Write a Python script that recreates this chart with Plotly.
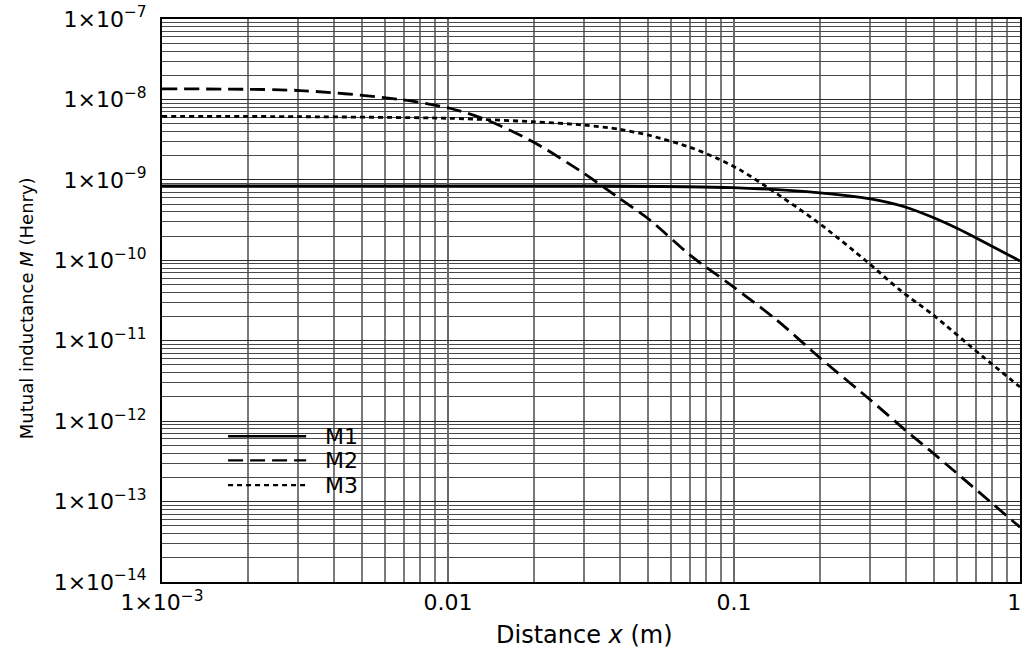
import plotly.graph_objects as go

# ---- data (x in m, M in Henry) ----
m1_x = [0.001, 0.003, 0.01, 0.034, 0.099, 0.2, 0.3, 0.397, 0.497, 0.602, 0.725, 1.0]
m1_y = [8.4e-10, 8.4e-10, 8.4e-10, 8.4e-10, 8.0e-10, 6.9e-10, 5.8e-10, 4.6e-10, 3.4e-10, 2.5e-10, 1.79e-10, 9.8e-11]

m2_x = [0.001, 0.00304, 0.00679, 0.01016, 0.01365, 0.0198, 0.0297, 0.039, 0.0508, 0.0702,
        0.0993, 0.141, 0.2, 0.3, 0.396, 0.497, 1.0]
m2_y = [1.35e-8, 1.29e-8, 1.0e-8, 7.77e-9, 5.55e-9, 2.98e-9, 1.22e-9, 6.18e-10, 3.17e-10, 1.16e-10,
        4.7e-11, 1.81e-11, 6.1e-12, 1.83e-12, 7.8e-13, 4.0e-13, 4.8e-14]

m3_x = [0.001, 0.00304, 0.01016, 0.0198, 0.0297, 0.0399, 0.0508, 0.0702, 0.0873, 0.105,
        0.130, 0.195, 0.292, 0.380, 0.497, 0.743, 1.0]
m3_y = [6.17e-9, 6.1e-9, 5.82e-9, 5.28e-9, 4.81e-9, 4.25e-9, 3.56e-9, 2.54e-9, 1.85e-9, 1.33e-9,
        8.2e-10, 3.02e-10, 9.6e-11, 4.28e-11, 2.09e-11, 6.3e-12, 2.66e-12]

series_names = ["M1", "M2", "M3"]

x_tickvals = [0.001, 0.01, 0.1, 1]
x_ticktext = ["1×10<sup>−3</sup>", "0.01", "0.1", "1\u2009\u00a0"]
y_exponents = [-14, -13, -12, -11, -10, -9, -8, -7]
y_tickvals = [10.0 ** e for e in y_exponents]
y_ticktext = ["1×10<sup>−%d</sup>" % (-e) for e in y_exponents]

FONT = "DejaVu Sans, Liberation Sans, Arial, sans-serif"
styles = {
    "M1": dict(color="black", width=2.8, dash="solid"),
    "M2": dict(color="black", width=2.8, dash="15px,7px"),
    "M3": dict(color="black", width=2.8, dash="5px,4px"),
}

fig = go.Figure()
for name, xs, ys in zip(series_names, [m1_x, m2_x, m3_x], [m1_y, m2_y, m3_y]):
    fig.add_trace(go.Scatter(x=xs, y=ys, mode="lines", name=name, showlegend=False,
                             line=dict(shape="spline", smoothing=0.8, **styles[name])))

fig.update_layout(
    width=1023, height=653,
    margin=dict(l=162, r=3, t=19, b=71),
    paper_bgcolor="white", plot_bgcolor="white",
    font=dict(family=FONT, color="black", size=22),
)
fig.update_xaxes(
    type="log", range=[-3, 0], tickvals=x_tickvals, ticktext=x_ticktext, automargin=False,
    ticklabeloverflow="allow",
    tickfont=dict(size=22), ticks="", showline=True, linecolor="black", linewidth=2, mirror=True,
    showgrid=True, gridcolor="#6a6a6a", gridwidth=1.6,
    minor=dict(dtick="D1", showgrid=True, gridcolor="#7a7a7a", gridwidth=1.6, ticks=""),
    zeroline=False,
)
fig.update_yaxes(
    type="log", range=[-14, -7], tickvals=y_tickvals, ticktext=y_ticktext, automargin=False,
    tickfont=dict(size=22), ticks="", ticklabelstandoff=9,
    showline=True, linecolor="black", linewidth=2, mirror=True,
    showgrid=True, gridcolor="#2a2a2a", gridwidth=1.3,
    minor=dict(dtick="D1", showgrid=True, gridcolor="#4a4a4a", gridwidth=1.1, ticks=""),
    zeroline=False,
)

# axis titles
fig.add_annotation(text="Distance <i>x</i> (m)", xref="paper", yref="paper", x=0.493, y=-0.094,
                   xanchor="center", yanchor="middle", showarrow=False, font=dict(size=24))
fig.add_annotation(text="Mutual inductance <i>M</i> (Henry)", xref="paper", yref="paper",
                   x=-0.158, y=0.487, xanchor="center", yanchor="middle", textangle=-90,
                   showarrow=False, font=dict(size=18))

# legend panel (white box hiding the grid, line samples and labels)
fig.add_shape(type="rect", xref="paper", yref="paper", x0=0.05, x1=0.267, y0=0.13, y1=0.288,
              fillcolor="white", line=dict(width=0), layer="between")
legend_y = [0.259, 0.216, 0.172]
for name, ly in zip(series_names, legend_y):
    st = styles[name]
    fig.add_shape(type="line", xref="paper", yref="paper", x0=0.077, x1=0.168, y0=ly, y1=ly,
                  line=dict(color=st["color"], width=st["width"] - 0.4, dash=st["dash"]), layer="above")
    fig.add_annotation(text=name, xref="paper", yref="paper", x=0.188, y=ly, xanchor="left",
                       yanchor="middle", showarrow=False, font=dict(size=22))

fig.write_html("out.html", config={"displayModeBar": False},
               post_script="document.body.style.margin='0';")
